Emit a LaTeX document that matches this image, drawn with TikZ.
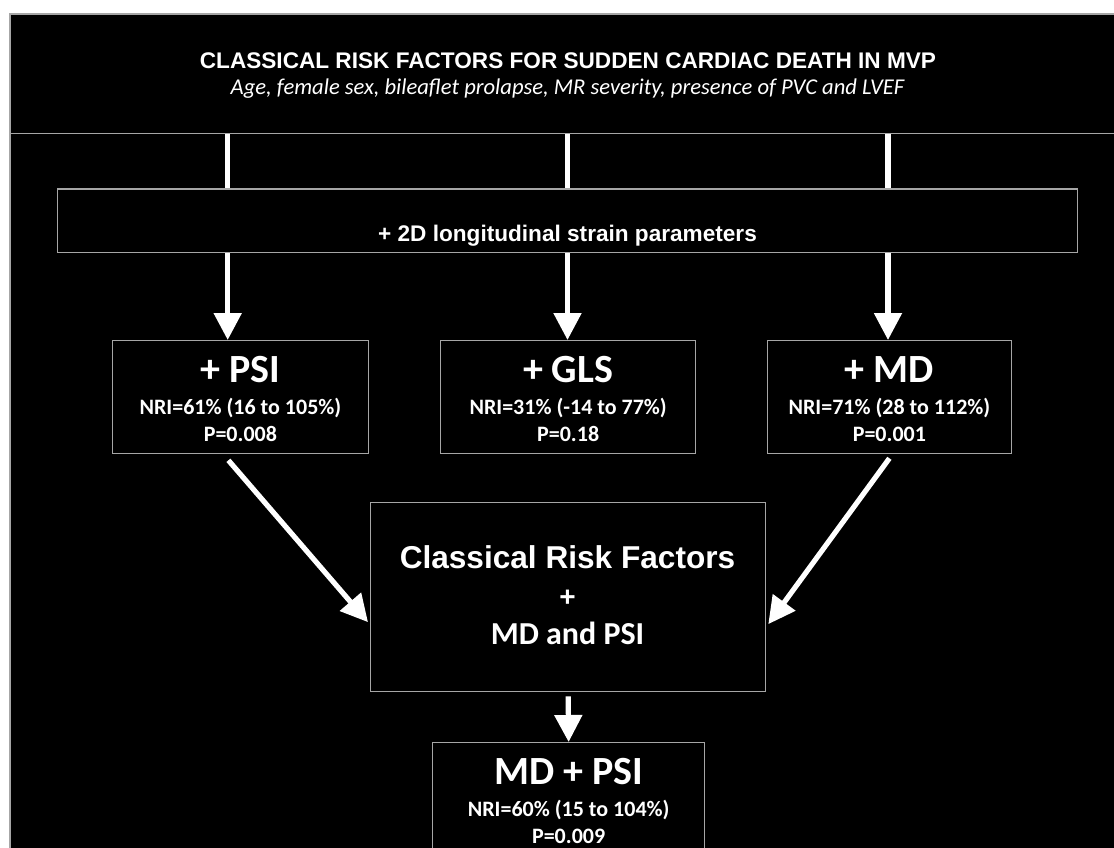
\documentclass[tikz,border=0pt]{standalone}
\usepackage{fontspec}
\setmainfont{Liberation Sans}
\newfontfamily\calib{Carlito}
\usepackage{tikz}
\usetikzlibrary{arrows.meta, positioning, calc}
\usepackage{xcolor}
\definecolor{framegray}{HTML}{A6A6A6}

\begin{document}
\begin{tikzpicture}[x=1pt, y=-1pt, >={Triangle[length=27pt, width=27pt]},
  box/.style={draw=framegray, line width=1.3pt, fill=black, inner sep=0pt},
  link/.style={white, line width=5.2pt},
  arr/.style={->, white, line width=5.2pt},
  headtxt/.style={text=white, inner sep=0pt, anchor=base, font=\fontsize{22.6}{26}\selectfont\bfseries},
  subtxt/.style={text=white, inner sep=0pt, anchor=base, font=\calib\fontsize{22.6}{26}\selectfont\itshape},
  bigtxt/.style={text=white, inner sep=0pt, anchor=base, font=\calib\fontsize{40}{44}\selectfont\bfseries},
  smalltxt/.style={text=white, inner sep=0pt, anchor=base, font=\calib\fontsize{22}{26}\selectfont\bfseries}]
  \useasboundingbox (0,0) rectangle (1114,848);
  \clip (0,0) rectangle (1114,848);
  \fill[white] (0,0) rectangle (1114,848);
  \filldraw[draw=framegray, line width=1.3pt, fill=black] (10,14) rectangle (1140,880);

  % boxes
  \node[box, minimum width=1130, minimum height=118.7, anchor=north west] (risk) at (10,14) {};
  \node[box, minimum width=1020, minimum height=63.4, anchor=north west] (strain) at (57,188.3) {};
  \node[box, minimum width=256.5, minimum height=113, anchor=north west] (psi) at (111.5,340) {};
  \node[box, minimum width=255, minimum height=113, anchor=north west] (gls) at (440,340) {};
  \node[box, minimum width=244.5, minimum height=113, anchor=north west] (md) at (766.5,340) {};
  \node[box, minimum width=395, minimum height=189, anchor=north west] (combo) at (370,502) {};
  \node[box, minimum width=272, minimum height=113, anchor=north west] (final) at (432,742) {};

  % column positions
  \coordinate (colA) at (227.7,0);
  \coordinate (colB) at (567.5,0);
  \coordinate (colC) at (888,0);

  % connectors
  \draw[link] (risk.south -| colA) -- (strain.north -| colA);
  \draw[link] (risk.south -| colB) -- (strain.north -| colB);
  \draw[link] (risk.south -| colC) -- (strain.north -| colC);
  \draw[arr] (strain.south -| colA) -- (psi.north -| colA);
  \draw[arr] (strain.south -| colB) -- (gls.north -| colB);
  \draw[arr] (strain.south -| colC) -- (md.north -| colC);
  \draw[arr] ($(psi.south)+(-12,6)$) -- ($(combo.west)+(-2,25)$);
  \draw[arr] ($(md.south)+(0,4)$) -- ($(combo.east)+(2,27)$);
  \draw[arr] ($(combo.south)+(0,4)$) -- (final.north);

  % texts
  \node[headtxt] (risktitle) at (568,68.3) {CLASSICAL RISK FACTORS FOR SUDDEN CARDIAC DEATH IN MVP};
  \node[subtxt] (risklist) at (567.5,95) {Age, female sex, bileaflet prolapse, MR severity, presence of PVC and LVEF};
  \node[headtxt] (straintxt) at (567.5,241.7) {+ 2D longitudinal strain parameters};

  \node[bigtxt] (psiname) at ($(psi.north)+(0,42)$) {+ PSI};
  \node[smalltxt] (psinri) at ($(psi.north)+(0,74)$) {NRI=61\% (16 to 105\%)};
  \node[smalltxt] (psip) at ($(psi.north)+(0,101)$) {P=0.008};

  \node[bigtxt] (glsname) at ($(gls.north)+(0,42)$) {+ GLS};
  \node[smalltxt] (glsnri) at ($(gls.north)+(0,74)$) {NRI=31\% (-14 to 77\%)};
  \node[smalltxt] (glsp) at ($(gls.north)+(0,101)$) {P=0.18};

  \node[bigtxt] (mdname) at ($(md.north)+(0,42)$) {+ MD};
  \node[smalltxt] (mdnri) at ($(md.north)+(0,74)$) {NRI=71\% (28 to 112\%)};
  \node[smalltxt] (mdp) at ($(md.north)+(0,101)$) {P=0.001};

  \node[text=white, inner sep=0pt, anchor=base, font=\fontsize{31.6}{34}\selectfont\bfseries] (combotitle) at (567.5,568) {Classical Risk Factors};
  \node[text=white, inner sep=0pt, anchor=base, font=\fontsize{28}{32}\selectfont\bfseries] (comboplus) at (567.5,606) {+};
  \node[text=white, inner sep=0pt, anchor=base, font=\calib\fontsize{32}{36}\selectfont\bfseries] (combopair) at (567.5,644) {MD and PSI};

  \node[bigtxt] (finalname) at ($(final.north)+(0,42)$) {MD + PSI};
  \node[smalltxt] (finalnri) at ($(final.north)+(0,74)$) {NRI=60\% (15 to 104\%)};
  \node[smalltxt] (finalp) at ($(final.north)+(0,101)$) {P=0.009};
\end{tikzpicture}
\end{document}
